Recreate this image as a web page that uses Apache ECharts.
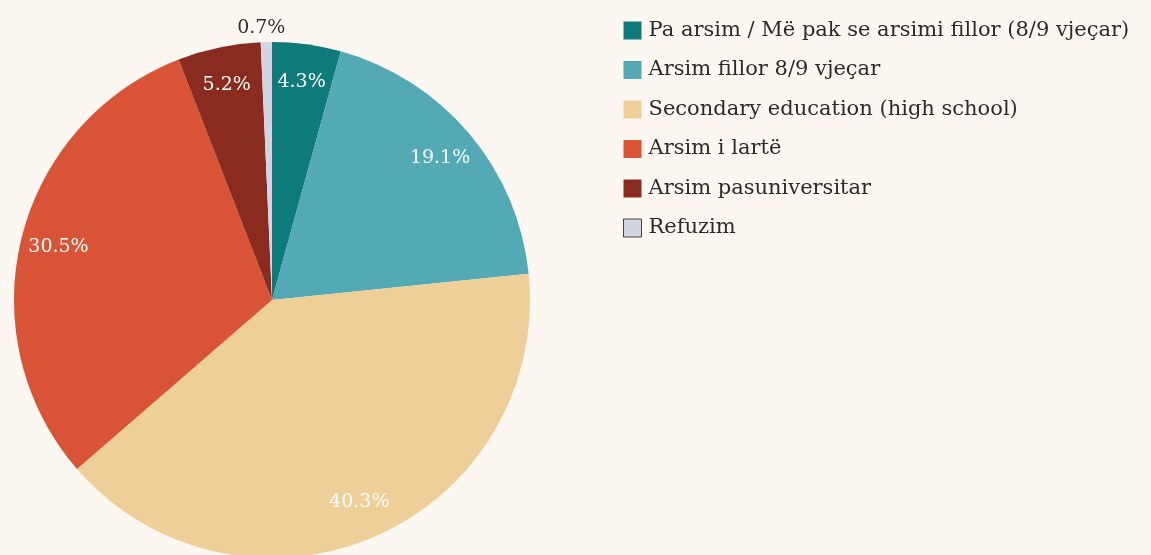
<!DOCTYPE html>
<html>
<head>
<meta charset="utf-8">
<script src="https://cdn.jsdelivr.net/npm/echarts@6/dist/echarts.min.js"></script>
<style>
  html, body { margin: 0; padding: 0; background: #fcf8f1; }
  #chart { width: 1151px; height: 555px; }
</style>
</head>
<body>
<div id="chart"></div>
<script>
// shares of respondents by education level (%)
const categories = [
  "Pa arsim / Më pak se arsimi fillor (8/9 vjeçar)",
  "Arsim fillor 8/9 vjeçar",
  "Secondary education (high school)",
  "Arsim i lartë",
  "Arsim pasuniversitar",
  "Refuzim",
];
const values = [4.3, 19.1, 40.3, 30.5, 5.2, 0.7];
const colors = ["#0e7a7a", "#53aab5", "#eecf97", "#d95336", "#8a2b20", "#d3d6e2"];

const font = "DejaVu Serif";
const chart = echarts.init(document.getElementById("chart"));

const pieData = categories.map((name, i) => ({
  name: name,
  value: values[i],
  itemStyle: { color: colors[i] },
}));

// label ring: same data, transparent, so inside labels sit near the rim
const labelData = categories.map((name, i) => {
  const item = { name: name, value: values[i], itemStyle: { color: "transparent" } };
  if (values[i] < 1) {
    item.label = { position: "outside", color: "#333" };
    item.labelLine = { show: false, length: 2, length2: 0 };
  }
  return item;
});

chart.setOption({
  backgroundColor: "#fcf8f1",
  animation: false,
  legend: {
    orient: "vertical",
    left: 623,
    top: 20,
    padding: 0,
    itemWidth: 18,
    itemHeight: 18,
    itemGap: 18.5,
    icon: "rect",
    textStyle: { fontFamily: font, fontSize: 21, lineHeight: 20, color: "#2b2b2b", padding: [0, 0, 0, 2] },
    data: categories.map((name, i) =>
      i === categories.length - 1
        ? { name: name, itemStyle: { borderColor: "#444", borderWidth: 1 } }
        : { name: name }
    ),
  },
  series: [
    {
      type: "pie",
      center: [272, 300],
      radius: [0, 258],
      startAngle: 90,
      label: { show: false },
      labelLine: { show: false },
      emphasis: { disabled: true },
      data: pieData,
    },
    {
      type: "pie",
      center: [272, 300],
      radius: [176, 258],
      startAngle: 90,
      silent: true,
      legendHoverLink: false,
      label: {
        show: true,
        position: "inside",
        formatter: "{c}%",
        fontFamily: font,
        fontSize: 19,
        color: "#fff",
      },
      labelLine: { show: false },
      labelLayout: (params) =>
        values[params.dataIndex] < 1 ? { align: "center", dy: -12 } : {},
      emphasis: { disabled: true },
      data: labelData,
    },
  ],
});
</script>
</body>
</html>
